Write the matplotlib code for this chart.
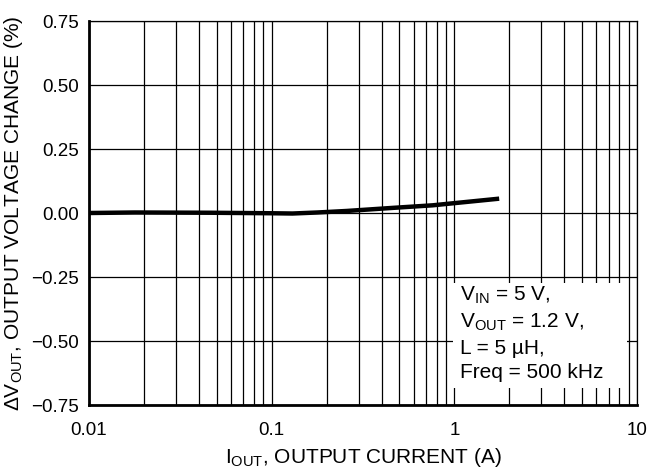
import matplotlib
matplotlib.use("Agg")
import matplotlib.pyplot as plt
from matplotlib.patches import Rectangle
from matplotlib.ticker import FixedLocator, FixedFormatter, LogLocator, NullFormatter

plt.rcParams['font.family'] = ['Liberation Sans', 'DejaVu Sans']
plt.rcParams['mathtext.fontset'] = 'custom'
plt.rcParams['mathtext.rm'] = 'Liberation Sans'
plt.rcParams['mathtext.it'] = 'Liberation Sans:italic'

# Output current (A) and output voltage change (%)
i_out = [0.01, 0.0178, 0.046, 0.1, 0.13, 0.178, 0.258, 0.46, 0.76, 1.76]
dv_out = [0.0, 0.002, 0.001, -0.001, -0.002, 0.002, 0.008, 0.020, 0.030, 0.056]

x_ticks = [0.01, 0.1, 1, 10]
x_tick_labels = ['0.01', '0.1', '1', '10']
y_ticks = [-0.75, -0.50, -0.25, 0.00, 0.25, 0.50, 0.75]
y_tick_labels = ['\u22120.75', '\u22120.50', '\u22120.25', '0.00', '0.25', '0.50', '0.75']

conditions = [r'V$_{\rm IN}$ = 5 V,',
              r'V$_{\rm OUT}$ = 1.2 V,',
              'L = 5 \u00b5H,',
              'Freq = 500 kHz']

fig = plt.figure(figsize=(6.52, 4.71), dpi=100)
ax = fig.add_axes([89/652, 66/471, 548/652, 384/471])

ax.set_xscale('log')
ax.set_xlim(0.01, 10)
ax.set_ylim(-0.75, 0.75)

ax.xaxis.set_major_locator(FixedLocator(x_ticks))
ax.xaxis.set_major_formatter(FixedFormatter(x_tick_labels))
ax.xaxis.set_minor_locator(LogLocator(base=10, subs=range(2, 10)))
ax.xaxis.set_minor_formatter(NullFormatter())
ax.yaxis.set_major_locator(FixedLocator(y_ticks))
ax.yaxis.set_major_formatter(FixedFormatter(y_tick_labels))

ax.grid(True, which='both', axis='x', color='black', linewidth=0.9)
ax.grid(True, which='major', axis='y', color='black', linewidth=0.9)
ax.set_axisbelow(True)

ax.tick_params(which='both', length=0, labelsize=13.5)
ax.tick_params(axis='x', pad=12)
ax.tick_params(axis='y', pad=7)
for s in ax.spines.values():
    s.set_linewidth(0.9)
ax.spines['left'].set_linewidth(2)
ax.spines['bottom'].set_linewidth(2)

ax.plot(i_out, dv_out, color='black', linewidth=3.2, zorder=4,
        solid_capstyle='butt')

# white panel holding the test conditions
ax.add_patch(Rectangle((0.664, 0.044), 0.318, 0.274, transform=ax.transAxes,
                       facecolor='white', edgecolor='none', zorder=2))
ax.text(0.677, 0.313, '\n'.join(conditions), transform=ax.transAxes,
        ha='left', va='top', fontsize=15, linespacing=1.37, zorder=3)

ax.set_xlabel(r'I$_{\rm OUT}$, OUTPUT CURRENT (A)', fontsize=15, labelpad=5)
ax.set_ylabel(r'$\Delta$V$_{\rm OUT}$, OUTPUT VOLTAGE CHANGE (%)', fontsize=15,
              labelpad=5)

fig.savefig('out.png', dpi=100)
